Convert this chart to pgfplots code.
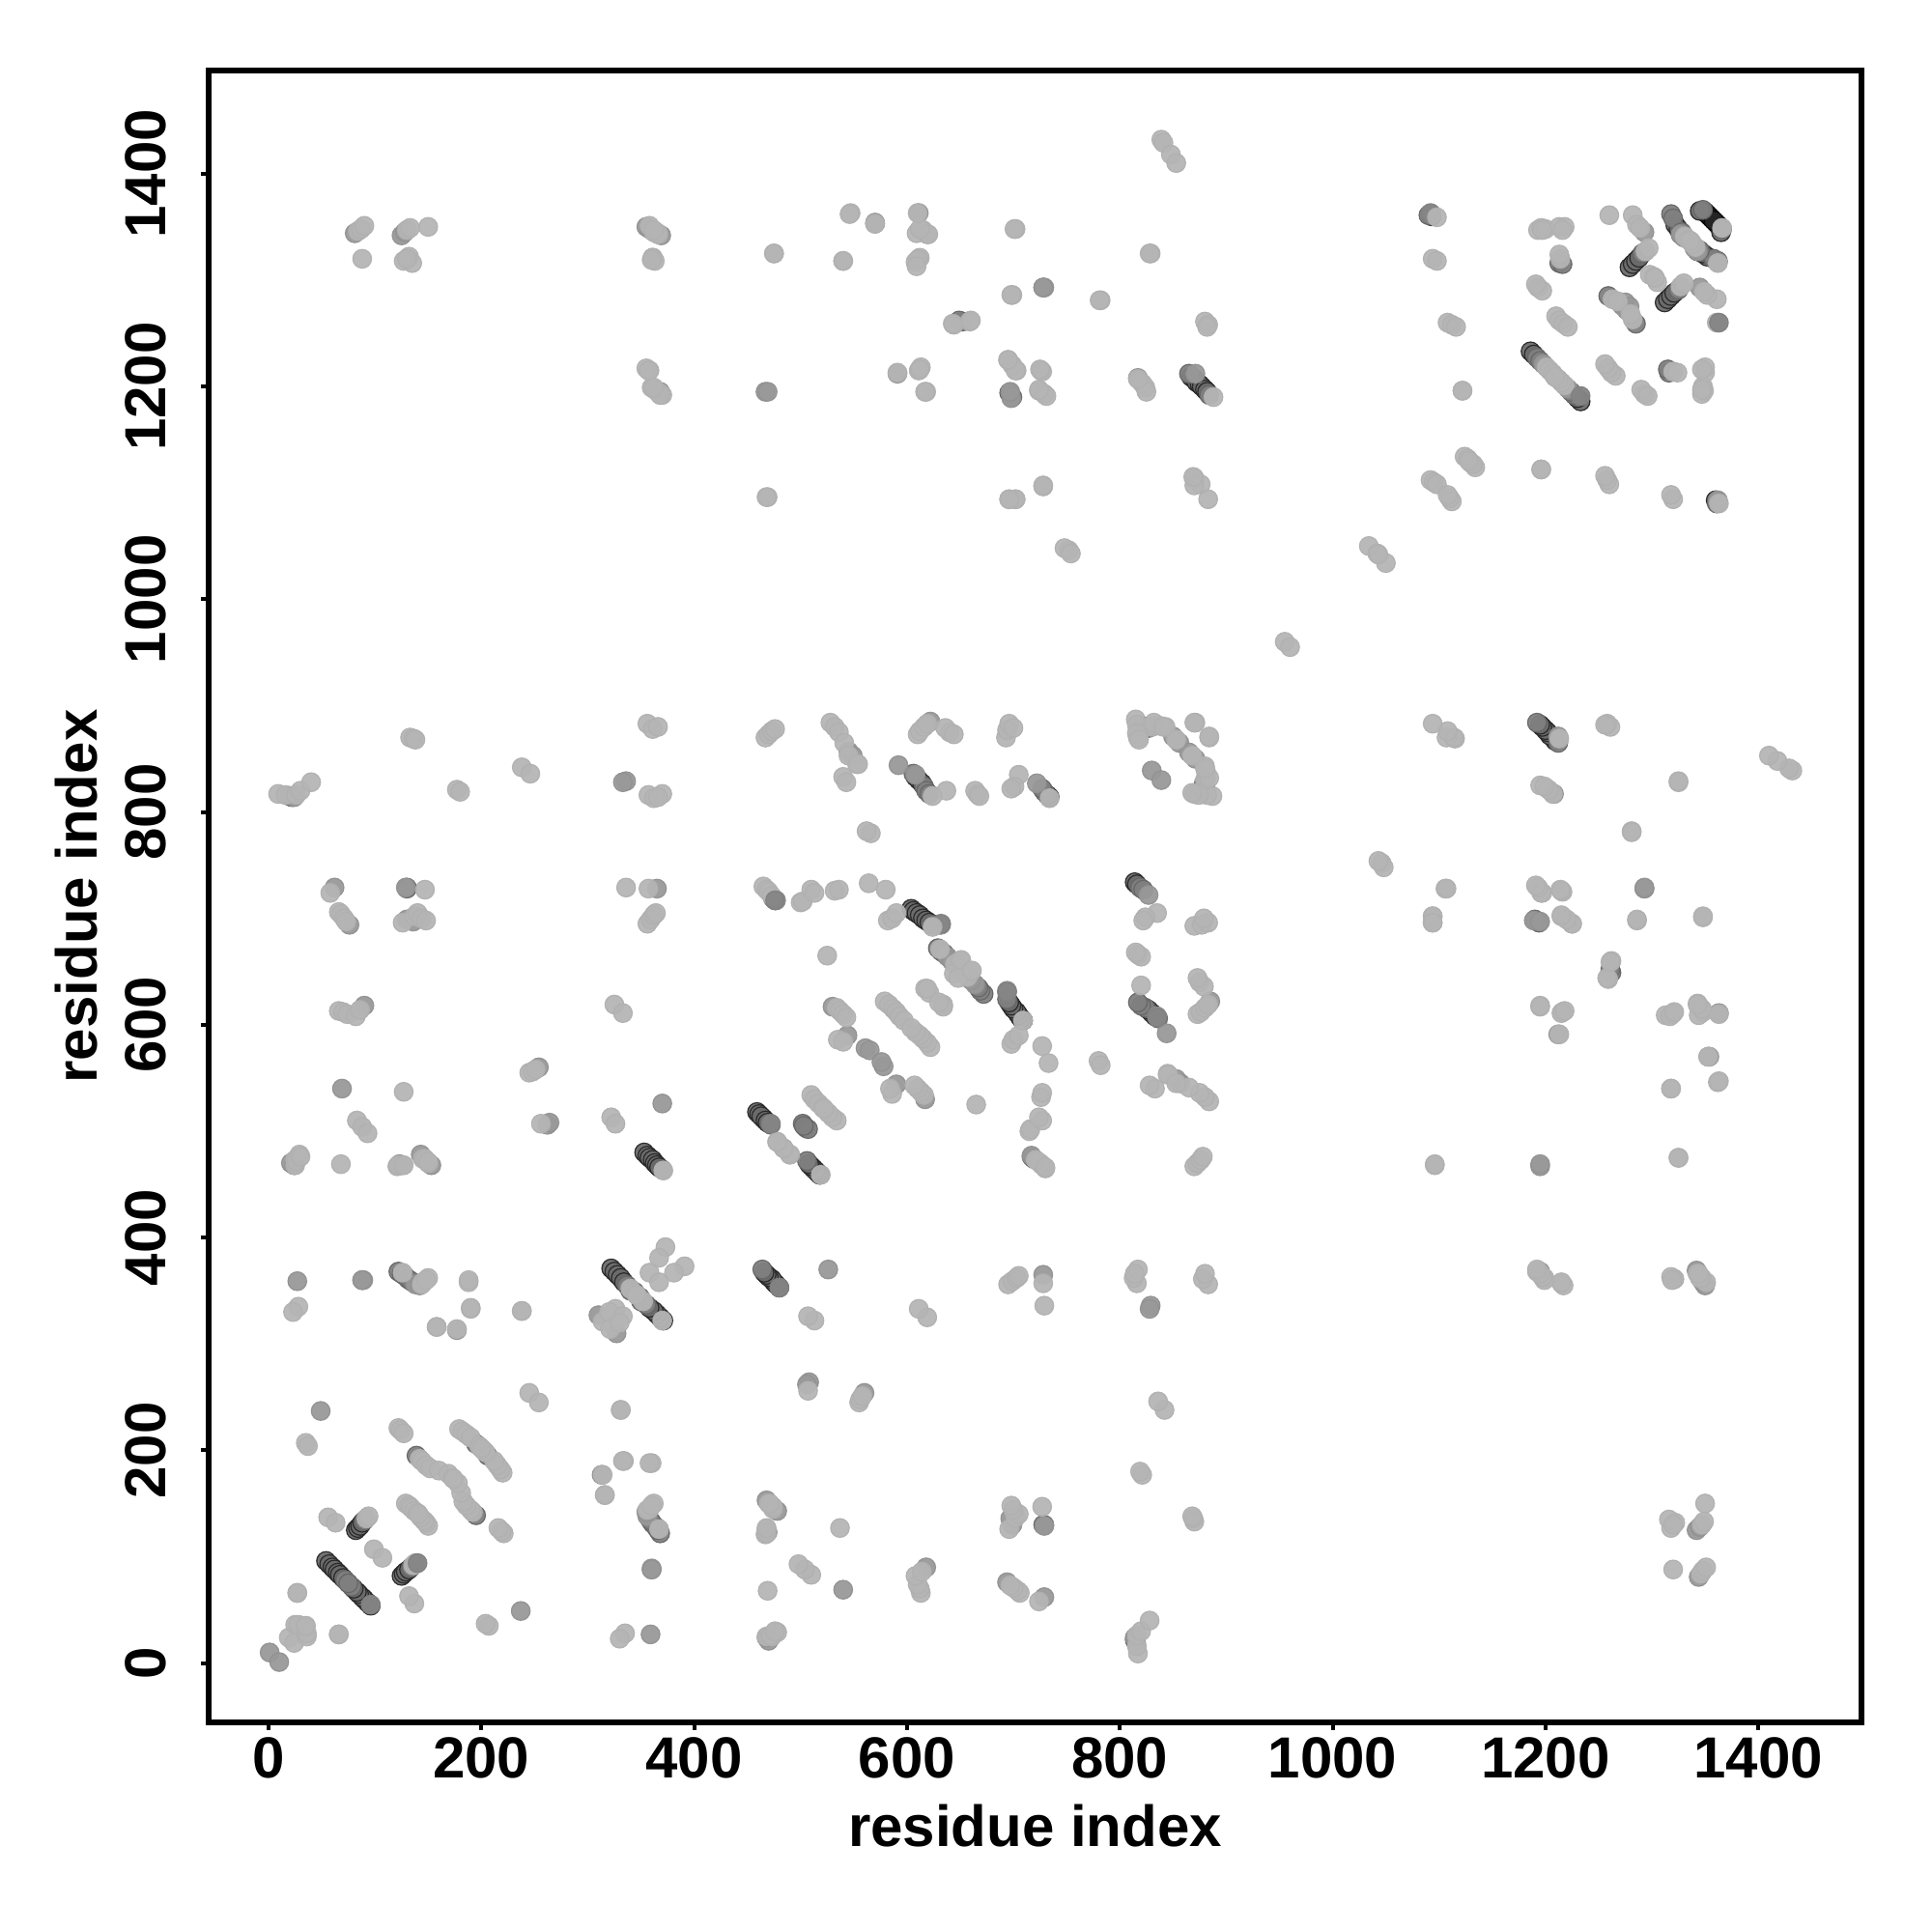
\documentclass[border=0pt]{standalone}
\usepackage{fontspec}
\setmainfont{Liberation Sans}
\usepackage{pgfplots}
\usepackage{pgfplotstable}
\pgfplotsset{compat=1.18}
\pgfplotstableread[row sep=\\,header=false]{
1350 1364\\1352 1362\\1354 1360\\1356 1358\\465 512\\}\tK
\pgfplotstableread[row sep=\\,header=false]{
54 96\\57 93\\60 90\\62 88\\65 85\\67 83\\70 80\\
82 125\\84 127\\86 129\\88 132\\
322 371\\325 368\\328 365\\331 362\\334 358\\
353 480\\356 477\\358 475\\361 473\\363 470\\365 468\\367 466\\
459 518\\461 516\\463 514\\467 510\\469 508\\
604 709\\606 707\\609 705\\612 703\\615 700\\618 698\\621 696\\
814 734\\816 732\\608 833\\611 830\\614 827\\
867 1209\\870 1207\\872 1204\\875 1202\\877 1200\\880 1197\\882 1195\\
1093 1360\\1186 1233\\1189 1230\\
1279 1312\\1282 1315\\1285 1318\\1288 1321\\
1322 1352\\1325 1348\\1327 1343\\824 880\\1345 1365\\}\tD
\pgfplotstableread[row sep=\\,header=false]{
20 815\\22 814\\130 729\\130 728\\122 368\\125 366\\128 364\\131 361\\134 359\\
72 78\\75 75\\90 134\\139 195\\195 206\\
337 355\\340 350\\344 349\\370 464\\
472 506\\476 717\\474 719\\502 507\\505 503\\
624 694\\629 672\\632 669\\635 667\\606 836\\616 824\\618 820\\621 817\\
819 729\\822 727\\865 1212\\884 1192\\
820 878\\827 879\\1090 1361\\1192 1227\\1195 1224\\1213 1316\\1216 1315\\
1318 1362\\1320 1358\\1348 1366\\1328 1345\\1291 1325\\
697 1193\\696 1194\\699 1190\\1259 1285\\652 1261\\
1262 649\\}\tN
\pgfplotstableread[row sep=\\,header=false]{
1 10\\49 237\\24 814\\89 360\\88 360\\27 359\\177 313\\138 356\\142 355\\
310 327\\62 729\\76 694\\69 540\\90 618\\130 699\\136 697\\153 468\\21 470\\24 468\\
254 560\\262 506\\336 829\\333 828\\369 1342\\360 88\\467 1195\\469 1195\\
526 370\\545 857\\549 853\\530 617\\561 578\\565 576\\544 590\\638 664\\642 660\\
632 694\\694 631\\835 608\\592 844\\622 885\\830 839\\827 722\\850 871\\856 865\\
570 1353\\611 1363\\728 1293\\729 1293\\591 1212\\
1093 1362\\1189 698\\1195 697\\1293 728\\1354 570\\1195 368\\1321 361\\
1198 1221\\1293 1345\\1272 1276\\1275 1279\\
817 1208\\871 1212\\
123 469\\143 478\\355 1350\\358 1348\\81 1344\\125 1342\\128 1345\\
1340 1330\\1343 1327\\729 129\\717 477\\508 264\\365 728\\}\tM
\pgfplotstableread[row sep=\\,header=false]{
19 24\\25 36\\28 36\\35 35\\66 27\\27 66\\56 137\\63 132\\99 107\\
92 136\\94 138\\129 150\\132 148\\134 146\\137 143\\140 141\\
142 192\\144 190\\148 186\\152 183\\160 181\\169 178\\173 174\\
179 220\\182 218\\186 215\\190 212\\198 204\\202 200\\
122 221\\124 219\\127 216\\245 254\\35 207\\37 204\\
331 238\\334 190\\360 188\\314 177\\316 158\\
145 358\\150 362\\126 367\\144 356\\148 360\\
28 335\\23 330\\188 358\\190 333\\158 316\\238 331\\
340 352\\346 346\\314 321\\326 333\\320 330\\
373 391\\367 381\\358 367\\
150 470\\145 474\\126 468\\121 467\\68 469\\25 468\\25 473\\29 478\\
322 513\\326 507\\325 619\\333 611\\336 729\\357 728\\
356 695\\359 699\\362 703\\364 705\\
356 883\\361 878\\366 880\\357 816\\362 813\\370 817\\366 814\\
355 1217\\358 1215\\360 1199\\363 1197\\366 1195\\370 1192\\
362 1345\\366 1344\\361 1321\\363 1318\\360 1319\\
84 1346\\87 1348\\90 1351\\88 1320\\130 1347\\133 1349\\150 1350\\
127 1318\\132 1322\\135 1316\\130 1320\\
9 817\\16 816\\26 816\\30 820\\40 828\\
26 472\\30 476\\
58 724\\66 706\\68 704\\71 700\\73 697\\
66 613\\70 612\\74 610\\82 608\\86 614\\
83 510\\88 504\\93 498\\
126 696\\137 702\\140 705\\144 700\\148 698\\147 727\\
127 537\\122 468\\127 468\\147 474\\150 471\\133 870\\136 869\\138 868\\
177 821\\180 819\\238 842\\246 836\\245 555\\248 556\\251 558\\256 507\\
475 1325\\469 1096\\467 870\\470 873\\473 876\\476 878\\
465 730\\468 727\\470 725\\473 721\\
500 715\\502 716\\510 727\\513 724\\532 726\\536 727\\
525 665\\
528 884\\532 880\\536 875\\541 865\\553 845\\540 833\\543 828\\545 853\\
534 616\\537 613\\540 610\\543 607\\535 586\\540 584\\
478 490\\484 484\\490 478\\
510 534\\513 530\\517 526\\521 522\\
564 733\\580 727\\582 698\\586 700\\590 705\\
579 622\\583 619\\587 615\\590 612\\593 608\\597 604\\
617 634\\621 630\\634 619\\
645 657\\650 660\\644 648\\651 661\\
780 566\\782 562\\817 666\\820 664\\815 668\\820 637\\
705 835\\701 824\\698 822\\
693 870\\694 877\\696 883\\700 879\\
640 875\\636 879\\644 873\\610 873\\612 876\\616 880\\619 883\\
845 554\\
815 887\\816 882\\817 870\\830 880\\833 881\\838 881\\843 880\\816 874\\818 868\\
871 884\\884 870\\853 868\\832 884\\841 880\\
955 960\\1034 1050\\1042 1043\\752 1046\\748 1048\\754 1043\\
547 1363\\540 1318\\609 1344\\615 1347\\619 1343\\611 1320\\608 1317\\612 1321\\
702 1348\\829 1325\\839 1432\\841 1429\\848 1418\\853 1410\\699 1286\\782 1281\\
880 1261\\883 1258\\644 1258\\659 1261\\611 1215\\613 1218\\618 1195\\
695 1225\\699 1220\\703 1215\\726 1215\\727 1214\\724 1196\\729 1193\\731 1191\\
821 1203\\824 1199\\870 1114\\876 1108\\883 1094\\728 1106\\702 1094\\696 1094\\
882 1256\\
1108 1260\\1112 1258\\1116 1256\\1094 1320\\1098 1318\\1122 1196\\
1124 1134\\1127 1132\\1130 1128\\1092 1112\\1095 1110\\1098 1108\\
1193 1347\\1196 1349\\1200 1348\\1213 1350\\1218 1350\\1214 1320\\1213 1324\\
1193 1293\\1197 1290\\1210 1266\\1213 1262\\1217 1259\\1221 1256\\
1201 1218\\1204 1215\\1207 1212\\1209 1209\\
1282 1361\\1286 1352\\1289 1349\\1294 1327\\1297 1330\\1298 1305\\1302 1303\\
1263 1282\\1268 1280\\1331 1341\\1334 1338\\1337 1336\\1260 1361\\
1197 1347\\1216 1347\\1191 1296\\
728 1107\\1325 475\\570 1353\\
1196 1122\\1362 546\\1318 540\\1094 702\\1094 696\\
1197 724\\1216 725\\1215 702\\1225 695\\1286 698\\1348 701\\1259 643\\
1262 660\\1195 617\\1216 612\\1213 591\\1319 610\\1313 609\\1343 620\\1348 612\\1363 610\\
1192 368\\1199 362\\1215 357\\1343 366\\1351 358\\1347 362\\1096 468\\1325 828\\
1107 870\\1115 869\\1195 825\\1207 817\\781 1281\\
}\tL
\pgfplotstableread[row sep=\\,header=false]{
96 55\\ 140 94\\}\tCapM
\pgfplotstableread[row sep=\\,header=false]{
480 353\\632 695\\694 631\\472 507\\476 717\\1363 1260\\1233 1191\\1362 1317\\1092 1363\\835 607\\}\tCapN
\pgfplotstableread[row sep=\\,header=false]{
371 463\\519 459\\730 466\\709 604\\624 692\\631 671\\624 815\\734 813\\888 1190\\1213 869\\
1098 1359\\1366 1349\\1363 1090\\1362 1316\\370 322\\}\tCapL
\pgfplotsset{dotsty/.style 2 args={only marks,mark=*,mark size=2.42pt,mark options={fill=black!#1,draw=black!#2,line width=0.3pt,opacity=0.95}}}
\newcommand\both[3]{%
\addplot[dotsty={#2}{#3}] table[x index=0,y index=1]{#1};
\addplot[dotsty={#2}{#3}] table[x index=1,y index=0]{#1};}
\begin{document}
\begin{tikzpicture}[x=1pt,y=1pt]
\path[use as bounding box] (0,0) rectangle (500,500);
\begin{axis}[
  at={(54pt,54.25pt)},anchor=south west,
  scale only axis,width=427.75pt,height=427.5pt,
  xmin=-56.3,xmax=1497,ymin=-55.7,ymax=1497,
  axis line style={line width=1.4pt,black},
  tick align=outside,tick pos=left,
  major tick length=2pt,
  tick style={line width=1pt,black},
  xtick={0,200,...,1400},ytick={0,200,...,1400},
  /pgf/number format/assume math mode=true,
  /pgf/number format/1000 sep={},
  tick label style={font=\fontsize{15}{18}\selectfont\bfseries},
  xticklabel style={yshift=1.7pt},
  yticklabel style={rotate=90,anchor=south,yshift=5.4pt},
  xlabel={residue index},ylabel={residue index},
  label style={font=\fontsize{15}{18}\selectfont\bfseries},
  xlabel style={at={(axis description cs:0.5,0)},anchor=center,yshift=-26.7pt},
  ylabel style={at={(axis description cs:0,0.5)},anchor=center,yshift=34.2pt},
]
\both{\tK}{85}{97}
\both{\tD}{58}{85}
\both{\tN}{50}{60}
\both{\tM}{40}{43}
\both{\tL}{29}{31}
\addplot[dotsty={48}{50}] table[x index=0,y index=1]{\tCapM};
\addplot[dotsty={48}{50}] table[x index=0,y index=1]{\tCapN};
\addplot[dotsty={29}{31}] table[x index=0,y index=1]{\tCapL};
\end{axis}
\end{tikzpicture}
\end{document}
